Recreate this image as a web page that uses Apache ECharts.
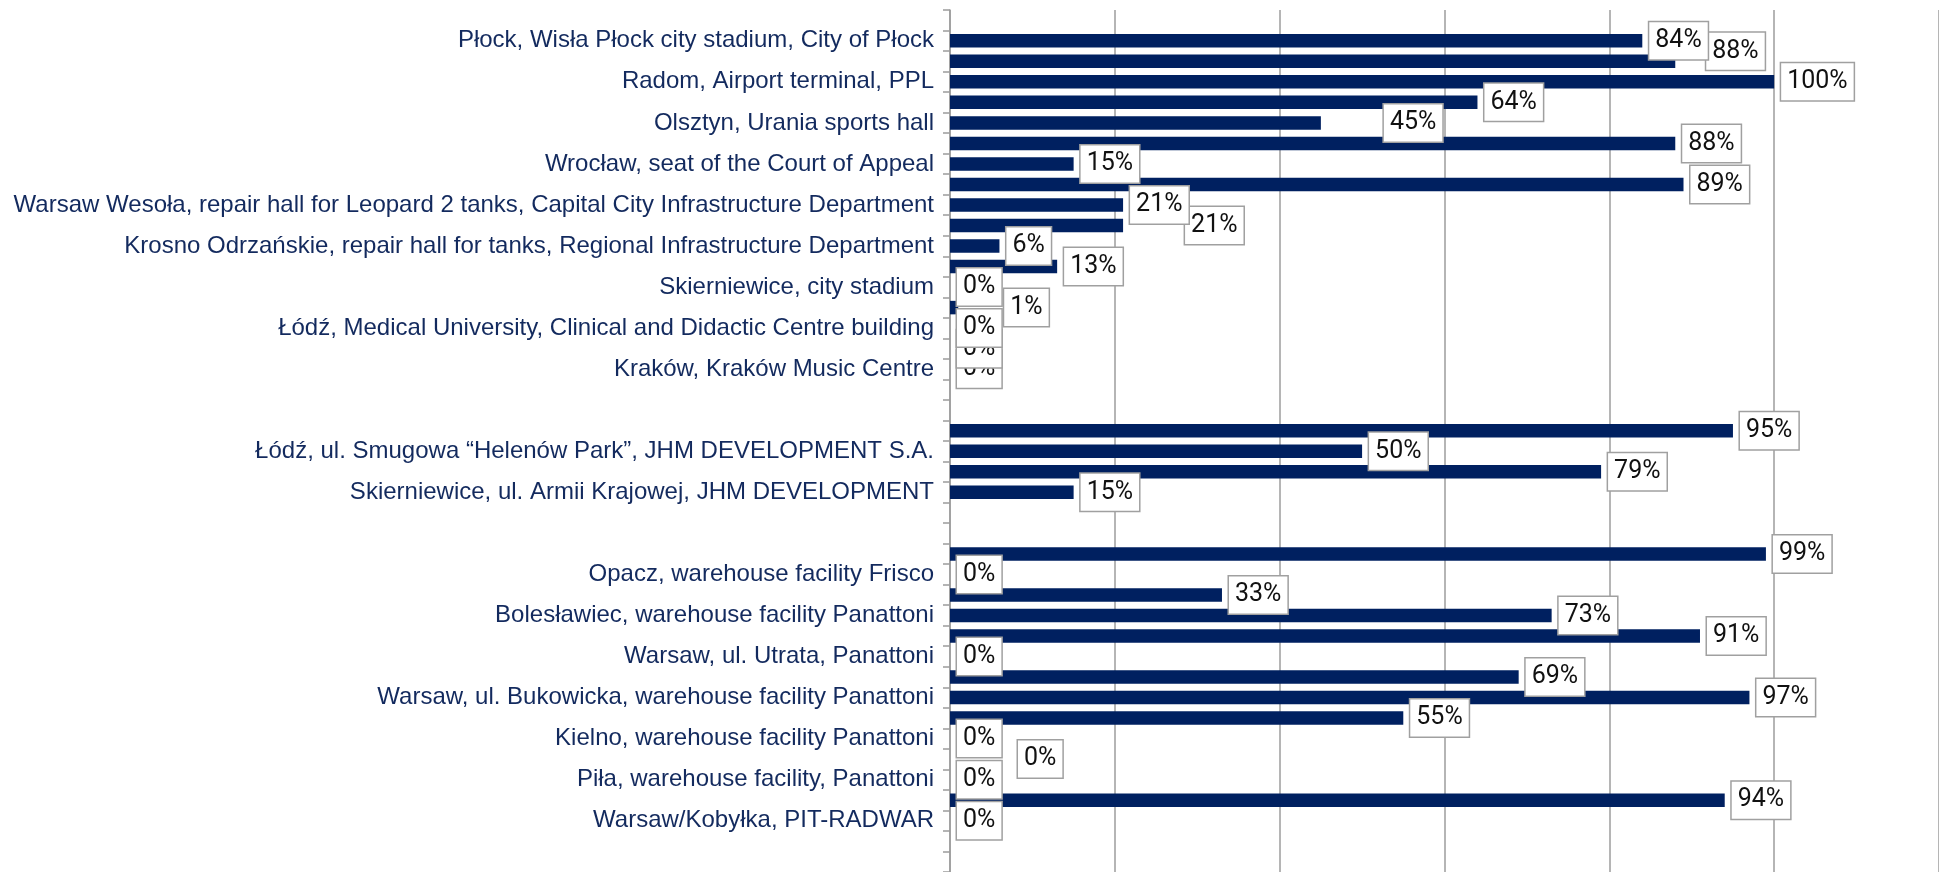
<!DOCTYPE html>
<html>
<head>
<meta charset="utf-8">
<script src="https://cdn.jsdelivr.net/npm/echarts@6/dist/echarts.min.js"></script>
<style>
html,body{margin:0;padding:0;background:#fff;}
#chart{width:1939px;height:872px;}
</style>
</head>
<body>
<div id="chart"></div>
<script>
// Category rows, top to bottom (blank rows carry no label)
const categories = [
  '',
  'Płock, Wisła Płock city stadium, City of Płock', '',
  'Radom, Airport terminal, PPL', '',
  'Olsztyn, Urania sports hall', '',
  'Wrocław, seat of the Court of Appeal', '',
  'Warsaw Wesoła, repair hall for Leopard 2 tanks, Capital City Infrastructure Department', '',
  'Krosno Odrzańskie, repair hall for tanks, Regional Infrastructure Department', '',
  'Skierniewice, city stadium', '',
  'Łódź, Medical University, Clinical and Didactic Centre building', '',
  'Kraków, Kraków Music Centre', '',
  '', '',
  'Łódź, ul. Smugowa “Helenów Park”, JHM DEVELOPMENT S.A.', '',
  'Skierniewice, ul. Armii Krajowej, JHM DEVELOPMENT', '',
  '', '',
  'Opacz, warehouse facility Frisco', '',
  'Bolesławiec, warehouse facility Panattoni', '',
  'Warsaw, ul. Utrata, Panattoni', '',
  'Warsaw, ul. Bukowicka, warehouse facility Panattoni', '',
  'Kielno, warehouse facility Panattoni', '',
  'Piła, warehouse facility, Panattoni', '',
  'Warsaw/Kobyłka, PIT-RADWAR', '',
  ''
];
// Percent completion per row (null = no bar)
const values = [
  null,
  84, 88,
  100, 64,
  45, 88,
  15, 89,
  21, 21,
  6, 13,
  0, 1,
  0, 0,
  0, null,
  null, 95,
  50, 79,
  15, null,
  null, 99,
  0, 33,
  73, 91,
  0, 69,
  97, 55,
  0, 0,
  0, 94,
  0, null,
  null
];
const xTicks = [0, 20, 40, 60, 80, 100, 120];

// label nudges (style only), keyed by row index
const labelNudge = {2: [24, -10], 5: [56, 0], 10: [55, 0], 14: [39, 0], 36: [61, 0]};

const catsRev = categories.slice().reverse();
const dataRev = values.map((v, i) => {
  const item = {value: v === null ? '-' : v};
  if (labelNudge[i]) item.label = {offset: labelNudge[i]};
  return item;
}).reverse();

const chart = echarts.init(document.getElementById('chart'), null, {renderer: 'canvas'});
chart.setOption({
  animation: false,
  backgroundColor: '#ffffff',
  grid: {left: 950, top: 10, width: 990, height: 866.5, containLabel: false},
  xAxis: {
    type: 'value',
    min: xTicks[0], max: xTicks[xTicks.length - 1], interval: 20,
    axisLine: {show: false},
    axisTick: {show: false},
    axisLabel: {show: false},
    splitLine: {show: true, lineStyle: {color: '#9c9c9c', width: 1.5}}
  },
  yAxis: {
    type: 'category',
    data: catsRev,
    inverse: false,
    axisLine: {show: true, lineStyle: {color: '#9c9c9c', width: 1.5}},
    axisTick: {show: true, length: 7, inside: false, lineStyle: {color: '#9c9c9c', width: 1.5}},
    axisLabel: {
      interval: 0, margin: 16,
      padding: [5, 0, 0, 0],
      color: '#132a5e', fontFamily: 'Liberation Sans, Arial, sans-serif', fontSize: 24
    },
    splitLine: {show: false}
  },
  series: [{
    type: 'bar',
    data: dataRev,
    barWidth: 13.5,
    itemStyle: {color: '#002060'},
    label: {
      show: true,
      position: 'right',
      distance: 7,
      formatter: '{c}%',
      color: '#111111',
      fontFamily: 'Roboto, sans-serif',
      fontSize: 25,
      lineHeight: 25,
      backgroundColor: '#ffffff',
      borderColor: '#a0a0a0',
      borderWidth: 1.5,
      padding: [6, 6]
    }
  }]
});
</script>
</body>
</html>
